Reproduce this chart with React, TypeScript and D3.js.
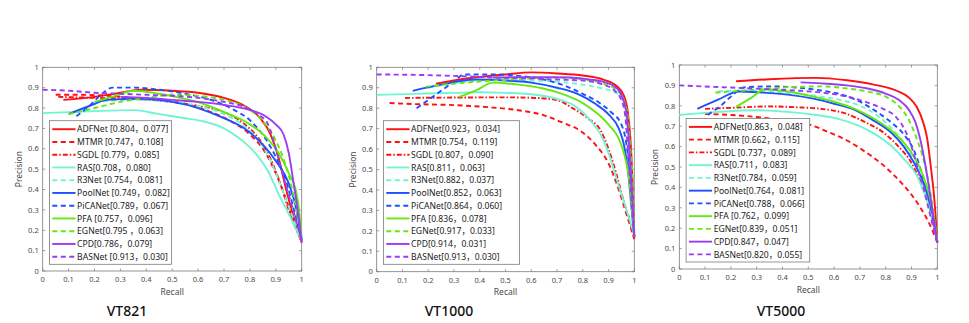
import React from "react";
import * as d3 from "d3";

type Pt = [number, number];

const methods = ["ADFNet", "MTMR", "SGDL", "RAS", "R3Net", "PoolNet", "PiCANet", "PFA", "EGNet", "CPD", "BASNet"];
const lineColors = ["#ff1010", "#ff1010", "#ff1010", "#72f4d4", "#72f4d4", "#1f50ff", "#1f50ff", "#62ea10", "#62ea10", "#9a3cf5", "#9a3cf5"];
const lineDashes = [null, "5,3.5", "5,2,1.5,2", null, "5,3.5", null, "5,3.5", null, "5,3.5", null, "5,3.5"];

const ticks = [0, 0.1, 0.2, 0.3, 0.4, 0.5, 0.6, 0.7, 0.8, 0.9, 1];

// VT821
const vt821Labels = [
  "ADFNet [0.804，0.077]", "MTMR [0.747，0.108]", "SGDL [0.779，0.085]", "RAS[0.708，0.080]",
  "R3Net [0.754，0.081]", "PoolNet [0.749，0.082]", "PiCANet[0.789，0.067]", "PFA [0.757，0.096]",
  "EGNet[0.795 ，0.063]", "CPD[0.786，0.079]", "BASNet [0.913，0.030]",
];
const vt821ADFNet: Pt[] = [[0.08, 0.84], [0.2, 0.855], [0.3, 0.875], [0.38, 0.89], [0.5, 0.885], [0.6, 0.875], [0.7, 0.85], [0.78, 0.81], [0.84, 0.75], [0.88, 0.67], [0.91, 0.56], [0.94, 0.4], [0.97, 0.26], [1, 0.14]];
const vt821MTMR: Pt[] = [[0.05, 0.865], [0.15, 0.865], [0.25, 0.86], [0.35, 0.85], [0.45, 0.84], [0.55, 0.82], [0.65, 0.78], [0.72, 0.74], [0.8, 0.67], [0.86, 0.58], [0.9, 0.48], [0.94, 0.35], [0.97, 0.24], [1, 0.14]];
const vt821SGDL: Pt[] = [[0.06, 0.855], [0.2, 0.85], [0.35, 0.845], [0.5, 0.83], [0.6, 0.81], [0.7, 0.78], [0.78, 0.72], [0.84, 0.64], [0.88, 0.55], [0.92, 0.42], [0.95, 0.3], [0.98, 0.2], [1, 0.15]];
const vt821RAS: Pt[] = [[0, 0.775], [0.1, 0.78], [0.2, 0.785], [0.35, 0.79], [0.45, 0.77], [0.55, 0.75], [0.62, 0.735], [0.7, 0.7], [0.76, 0.65], [0.82, 0.58], [0.87, 0.49], [0.91, 0.38], [0.95, 0.28], [1, 0.15]];
const vt821R3Net: Pt[] = [[0.2, 0.83], [0.35, 0.84], [0.5, 0.83], [0.6, 0.81], [0.7, 0.77], [0.78, 0.71], [0.84, 0.63], [0.88, 0.54], [0.91, 0.45], [0.94, 0.35], [0.97, 0.25], [1, 0.15]];
const vt821PoolNet: Pt[] = [[0.1, 0.77], [0.18, 0.81], [0.25, 0.84], [0.37, 0.845], [0.5, 0.83], [0.6, 0.8], [0.7, 0.75], [0.79, 0.69], [0.85, 0.62], [0.9, 0.54], [0.95, 0.43], [0.98, 0.3], [1, 0.15]];
const vt821PiCANet: Pt[] = [[0.13, 0.76], [0.18, 0.81], [0.22, 0.86], [0.27, 0.9], [0.35, 0.9], [0.45, 0.89], [0.55, 0.87], [0.65, 0.84], [0.74, 0.79], [0.8, 0.74], [0.86, 0.65], [0.9, 0.56], [0.94, 0.44], [0.97, 0.3], [1, 0.15]];
const vt821PFA: Pt[] = [[0.2, 0.83], [0.28, 0.86], [0.35, 0.885], [0.45, 0.87], [0.55, 0.845], [0.62, 0.82], [0.7, 0.78], [0.8, 0.72], [0.86, 0.66], [0.91, 0.58], [0.95, 0.48], [0.98, 0.38], [0.99, 0.3], [1, 0.15]];
const vt821EGNet: Pt[] = [[0.1, 0.77], [0.2, 0.8], [0.3, 0.83], [0.4, 0.85], [0.5, 0.865], [0.6, 0.86], [0.7, 0.84], [0.8, 0.79], [0.86, 0.72], [0.9, 0.64], [0.93, 0.55], [0.96, 0.42], [0.98, 0.3], [1, 0.15]];
const vt821CPD: Pt[] = [[0.3, 0.855], [0.4, 0.85], [0.5, 0.84], [0.6, 0.83], [0.7, 0.815], [0.8, 0.79], [0.86, 0.76], [0.9, 0.72], [0.93, 0.67], [0.95, 0.58], [0.97, 0.42], [0.99, 0.25], [1, 0.14]];
const vt821BASNet: Pt[] = [[0, 0.89], [0.1, 0.885], [0.2, 0.875], [0.3, 0.87], [0.4, 0.865], [0.5, 0.86], [0.6, 0.85], [0.7, 0.83], [0.77, 0.81], [0.83, 0.77], [0.87, 0.72], [0.9, 0.6], [0.93, 0.46], [0.96, 0.33], [1, 0.15]];

// VT1000
const vt1000Labels = [
  "ADFNet[0.923，0.034]", "MTMR [0.754，0.119]", "SGDL [0.807，0.090]", "RAS[0.811，0.063]",
  "R3Net[0.882，0.037]", "PoolNet[0.852，0.063]", "PiCANet[0.864，0.060]", "PFA [0.836，0.078]",
  "EGNet[0.917，0.033]", "CPD[0.914，0.031]", "BASNet[0.913，0.030]",
];
const vt1000ADFNet: Pt[] = [[0.23, 0.92], [0.35, 0.945], [0.5, 0.965], [0.6, 0.975], [0.7, 0.97], [0.8, 0.96], [0.88, 0.94], [0.93, 0.91], [0.96, 0.86], [0.975, 0.78], [0.985, 0.65], [0.993, 0.45], [1, 0.17]];
const vt1000MTMR: Pt[] = [[0.05, 0.825], [0.15, 0.82], [0.3, 0.815], [0.43, 0.805], [0.55, 0.79], [0.65, 0.765], [0.72, 0.73], [0.79, 0.69], [0.85, 0.62], [0.9, 0.53], [0.94, 0.4], [0.97, 0.28], [1, 0.16]];
const vt1000SGDL: Pt[] = [[0.11, 0.85], [0.3, 0.852], [0.5, 0.853], [0.62, 0.85], [0.7, 0.84], [0.76, 0.8], [0.82, 0.75], [0.87, 0.69], [0.9, 0.6], [0.93, 0.48], [0.96, 0.34], [0.985, 0.24], [1, 0.16]];
const vt1000RAS: Pt[] = [[0, 0.865], [0.15, 0.87], [0.3, 0.875], [0.4, 0.878], [0.5, 0.875], [0.6, 0.868], [0.7, 0.845], [0.77, 0.81], [0.83, 0.74], [0.87, 0.67], [0.9, 0.58], [0.93, 0.46], [0.96, 0.34], [1, 0.18]];
const vt1000R3Net: Pt[] = [[0.2, 0.9], [0.35, 0.93], [0.5, 0.94], [0.6, 0.935], [0.7, 0.93], [0.8, 0.915], [0.88, 0.895], [0.92, 0.88], [0.95, 0.85], [0.965, 0.78], [0.975, 0.65], [0.985, 0.48], [0.995, 0.3], [1, 0.17]];
const vt1000PoolNet: Pt[] = [[0.14, 0.885], [0.25, 0.915], [0.38, 0.94], [0.5, 0.935], [0.6, 0.925], [0.7, 0.9], [0.78, 0.87], [0.85, 0.82], [0.9, 0.77], [0.94, 0.7], [0.96, 0.62], [0.975, 0.5], [0.99, 0.3], [1, 0.17]];
const vt1000PiCANet: Pt[] = [[0.155, 0.8], [0.2, 0.84], [0.25, 0.885], [0.3, 0.93], [0.34, 0.965], [0.45, 0.965], [0.55, 0.958], [0.65, 0.94], [0.73, 0.91], [0.8, 0.87], [0.86, 0.83], [0.91, 0.78], [0.95, 0.72], [0.97, 0.62], [0.985, 0.45], [1, 0.17]];
const vt1000PFA: Pt[] = [[0.32, 0.855], [0.39, 0.89], [0.45, 0.925], [0.55, 0.915], [0.65, 0.895], [0.72, 0.87], [0.8, 0.825], [0.86, 0.77], [0.9, 0.72], [0.94, 0.65], [0.96, 0.58], [0.98, 0.45], [0.99, 0.32], [1, 0.17]];
const vt1000EGNet: Pt[] = [[0.19, 0.905], [0.3, 0.92], [0.45, 0.935], [0.6, 0.945], [0.7, 0.95], [0.8, 0.94], [0.88, 0.92], [0.93, 0.89], [0.96, 0.84], [0.975, 0.75], [0.985, 0.6], [0.995, 0.4], [1, 0.17]];
const vt1000CPD: Pt[] = [[0.45, 0.95], [0.55, 0.952], [0.65, 0.952], [0.75, 0.95], [0.83, 0.94], [0.89, 0.925], [0.93, 0.9], [0.955, 0.85], [0.97, 0.77], [0.98, 0.62], [0.99, 0.42], [1, 0.17]];
const vt1000BASNet: Pt[] = [[0, 0.965], [0.15, 0.963], [0.3, 0.958], [0.45, 0.95], [0.6, 0.945], [0.7, 0.94], [0.8, 0.935], [0.88, 0.915], [0.92, 0.89], [0.95, 0.84], [0.965, 0.76], [0.975, 0.6], [0.985, 0.42], [1, 0.17]];

// VT5000
const vt5000Labels = [
  "ADFNet[0.863，0.048]", "MTMR [0.662，0.115]", "SGDL [0.737，0.089]", "RAS[0.711，0.083]",
  "R3Net[0.784，0.059]", "PoolNet[0.764，0.081]", "PiCANet[0.788，0.066]", "PFA [0.762，0.099]",
  "EGNet[0.839，0.051]", "CPD[0.847，0.047]", "BASNet[0.820，0.055]",
];
const vt5000ADFNet: Pt[] = [[0.22, 0.92], [0.35, 0.93], [0.53, 0.937], [0.65, 0.925], [0.75, 0.905], [0.84, 0.875], [0.89, 0.84], [0.92, 0.795], [0.945, 0.72], [0.96, 0.645], [0.975, 0.5], [0.99, 0.32], [1, 0.13]];
const vt5000MTMR: Pt[] = [[0.1, 0.76], [0.2, 0.755], [0.3, 0.745], [0.4, 0.73], [0.5, 0.71], [0.58, 0.67], [0.65, 0.63], [0.72, 0.575], [0.78, 0.52], [0.84, 0.45], [0.89, 0.38], [0.93, 0.31], [0.97, 0.22], [1, 0.13]];
const vt5000SGDL: Pt[] = [[0.1, 0.785], [0.2, 0.79], [0.35, 0.797], [0.45, 0.793], [0.55, 0.785], [0.65, 0.76], [0.72, 0.72], [0.79, 0.67], [0.85, 0.6], [0.9, 0.52], [0.94, 0.41], [0.97, 0.3], [1, 0.13]];
const vt5000RAS: Pt[] = [[0, 0.755], [0.15, 0.77], [0.3, 0.778], [0.42, 0.77], [0.53, 0.755], [0.62, 0.735], [0.69, 0.705], [0.76, 0.66], [0.82, 0.605], [0.87, 0.54], [0.92, 0.46], [0.95, 0.37], [0.98, 0.26], [1, 0.13]];
const vt5000R3Net: Pt[] = [[0.15, 0.87], [0.25, 0.875], [0.35, 0.87], [0.45, 0.86], [0.55, 0.845], [0.62, 0.83], [0.7, 0.8], [0.77, 0.75], [0.83, 0.68], [0.88, 0.6], [0.92, 0.5], [0.95, 0.4], [0.98, 0.28], [1, 0.13]];
const vt5000PoolNet: Pt[] = [[0.07, 0.785], [0.15, 0.83], [0.23, 0.87], [0.32, 0.865], [0.42, 0.855], [0.52, 0.835], [0.6, 0.81], [0.68, 0.78], [0.75, 0.73], [0.82, 0.67], [0.87, 0.6], [0.91, 0.52], [0.95, 0.41], [0.98, 0.28], [1, 0.13]];
const vt5000PiCANet: Pt[] = [[0.11, 0.755], [0.16, 0.8], [0.2, 0.845], [0.25, 0.89], [0.35, 0.895], [0.45, 0.89], [0.55, 0.875], [0.63, 0.855], [0.7, 0.82], [0.76, 0.775], [0.82, 0.72], [0.87, 0.66], [0.91, 0.58], [0.94, 0.47], [0.97, 0.33], [1, 0.13]];
const vt5000PFA: Pt[] = [[0.22, 0.795], [0.28, 0.84], [0.33, 0.88], [0.42, 0.87], [0.52, 0.845], [0.6, 0.82], [0.68, 0.785], [0.75, 0.74], [0.81, 0.69], [0.87, 0.62], [0.91, 0.55], [0.95, 0.44], [0.98, 0.3], [1, 0.13]];
const vt5000EGNet: Pt[] = [[0.14, 0.865], [0.25, 0.875], [0.35, 0.885], [0.45, 0.893], [0.55, 0.895], [0.65, 0.885], [0.73, 0.87], [0.8, 0.845], [0.85, 0.8], [0.89, 0.73], [0.92, 0.64], [0.95, 0.52], [0.97, 0.4], [1, 0.13]];
const vt5000CPD: Pt[] = [[0.47, 0.915], [0.55, 0.91], [0.65, 0.9], [0.73, 0.885], [0.8, 0.86], [0.85, 0.83], [0.89, 0.78], [0.915, 0.72], [0.935, 0.63], [0.955, 0.5], [0.975, 0.34], [1, 0.13]];
const vt5000BASNet: Pt[] = [[0, 0.9], [0.15, 0.892], [0.3, 0.884], [0.45, 0.875], [0.55, 0.865], [0.65, 0.845], [0.72, 0.82], [0.79, 0.785], [0.84, 0.745], [0.875, 0.68], [0.9, 0.6], [0.925, 0.49], [0.95, 0.38], [0.975, 0.25], [1, 0.13]];

const vt821Curves = [vt821ADFNet, vt821MTMR, vt821SGDL, vt821RAS, vt821R3Net, vt821PoolNet, vt821PiCANet, vt821PFA, vt821EGNet, vt821CPD, vt821BASNet];
const vt1000Curves = [vt1000ADFNet, vt1000MTMR, vt1000SGDL, vt1000RAS, vt1000R3Net, vt1000PoolNet, vt1000PiCANet, vt1000PFA, vt1000EGNet, vt1000CPD, vt1000BASNet];
const vt5000Curves = [vt5000ADFNet, vt5000MTMR, vt5000SGDL, vt5000RAS, vt5000R3Net, vt5000PoolNet, vt5000PiCANet, vt5000PFA, vt5000EGNet, vt5000CPD, vt5000BASNet];

const font = "'Noto Sans', 'Noto Sans CJK SC', sans-serif";
const axisColor = "#7a7a7a";
const textColor = "#4a4a4a";

type PanelProps = {
  title: string;
  labels: string[];
  curves: Pt[][];
  left: number;
  right: number;
  top: number;
  bottom: number;
  legendW: number;
  titleX: number;
};

function Panel({ title, labels, curves, left, right, top, bottom, legendW, titleX }: PanelProps) {
  const x = d3.scaleLinear().domain([0, 1]).range([left, right]);
  const y = d3.scaleLinear().domain([0, 1]).range([bottom, top]);
  const line = d3
    .line<Pt>()
    .x((d) => x(d[0]))
    .y((d) => y(d[1]))
    .curve(d3.curveMonotoneX);
  const fmt = (t: number) => String(+t.toFixed(1));
  const lgX = left + 6.8;
  const lgY = top + 53.4;
  const rowH = 12.75;

  return (
    <g>
      {/* box */}
      <rect x={left} y={top} width={right - left} height={bottom - top} fill="white" stroke={axisColor} strokeWidth={0.8} />
      {ticks.map((t, i) => (
        <g key={"t" + i}>
          <line x1={x(t)} x2={x(t)} y1={bottom} y2={bottom - 2.6} stroke={axisColor} strokeWidth={0.7} />
          <line x1={x(t)} x2={x(t)} y1={top} y2={top + 2.6} stroke={axisColor} strokeWidth={0.7} />
          <line x1={left} x2={left + 2.6} y1={y(t)} y2={y(t)} stroke={axisColor} strokeWidth={0.7} />
          <line x1={right} x2={right - 2.6} y1={y(t)} y2={y(t)} stroke={axisColor} strokeWidth={0.7} />
          <text x={x(t)} y={bottom + 11} textAnchor="middle" fontSize={7.5} fill={textColor} fontFamily={font}>
            {fmt(t)}
          </text>
          <text x={left - 4} y={y(t) + 2.7} textAnchor="end" fontSize={7.5} fill={textColor} fontFamily={font}>
            {fmt(t)}
          </text>
        </g>
      ))}
      <text x={(left + right) / 2} y={bottom + 23.5} textAnchor="middle" fontSize={8.5} fill={textColor} fontFamily={font}>
        Recall
      </text>
      <text
        transform={`translate(${left - 21},${(top + bottom) / 2}) rotate(-90)`}
        textAnchor="middle"
        fontSize={8.5}
        fill={textColor}
        fontFamily={font}
      >
        Precision
      </text>

      {curves.map((c, i) => (
        <path
          key={"c" + i}
          d={line(c) || ""}
          fill="none"
          stroke={lineColors[i]}
          strokeWidth={1.9}
          strokeDasharray={lineDashes[i] || undefined}
        />
      ))}

      {/* legend */}
      <rect x={lgX} y={lgY} width={legendW} height={143.6} fill="white" stroke={axisColor} strokeWidth={0.8} />
      {labels.map((lab, i) => {
        const ry = lgY + 8.5 + i * rowH;
        return (
          <g key={"l" + i}>
            <line x1={lgX + 2.8} x2={lgX + 26} y1={ry} y2={ry} stroke={lineColors[i]} strokeWidth={1.9} strokeDasharray={lineDashes[i] || undefined} />
            <text x={lgX + 27.6} y={ry + 3.1} fontSize={8.6} fill="#222" fontFamily={font}>
              {lab}
            </text>
          </g>
        );
      })}

      <text x={titleX} y={316} textAnchor="middle" fontSize={14} fontWeight={500} fill="#111" fontFamily={font}>
        {title}
      </text>
    </g>
  );
}

export default function App() {
  return (
    <svg width={969} height={323} style={{ position: "absolute", left: 0, top: 0, background: "white" }}>
      <rect width={969} height={323} fill="white" />
      <Panel title="VT821" labels={vt821Labels} curves={vt821Curves} left={42.7} right={301.7} top={67.3} bottom={271} legendW={122} titleX={127} />
      <Panel title="VT1000" labels={vt1000Labels} curves={vt1000Curves} left={376.7} right={634.3} top={67.3} bottom={271.7} legendW={136} titleX={449} />
      <Panel title="VT5000" labels={vt5000Labels} curves={vt5000Curves} left={679.3} right={937.3} top={65} bottom={269} legendW={123.6} titleX={781} />
    </svg>
  );
}
